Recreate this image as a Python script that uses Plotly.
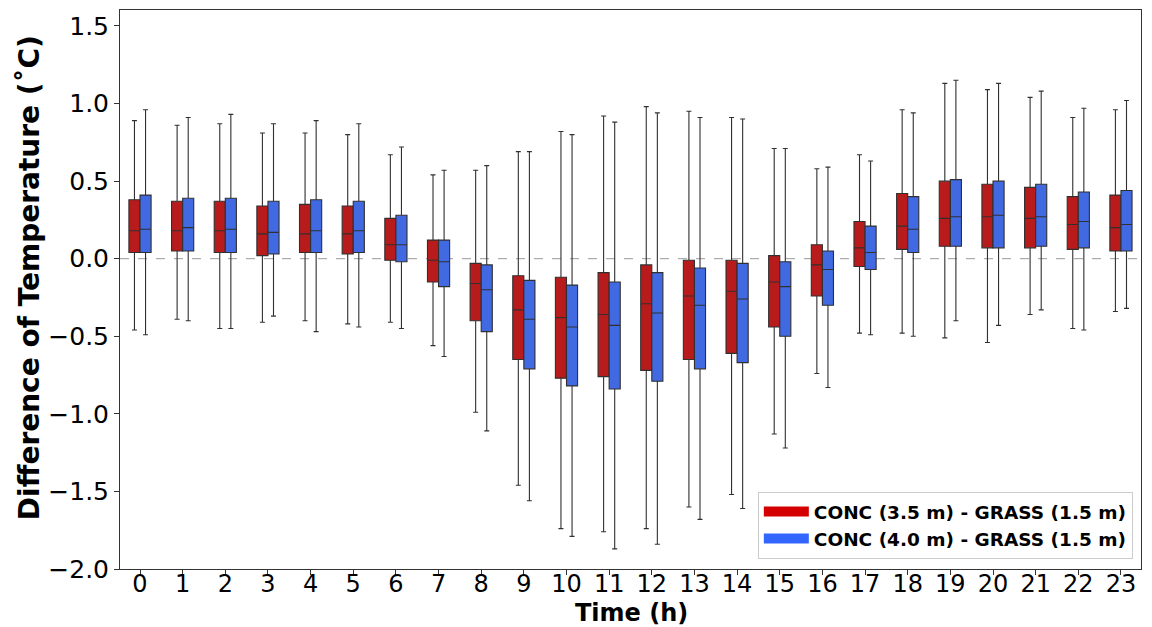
import plotly.graph_objects as go

hours = list(range(24))

# CONC (3.5 m) - GRASS (1.5 m)
red_upper = [0.89, 0.86, 0.87, 0.81, 0.81, 0.80, 0.67, 0.54, 0.57, 0.69, 0.82, 0.92,
             0.98, 0.95, 0.91, 0.71, 0.58, 0.67, 0.96, 1.13, 1.09, 1.04, 0.91, 0.96]
red_q3 = [0.38, 0.37, 0.37, 0.34, 0.35, 0.34, 0.26, 0.12, -0.03, -0.11, -0.12, -0.09,
          -0.04, -0.01, -0.01, 0.02, 0.09, 0.24, 0.42, 0.50, 0.48, 0.46, 0.40, 0.41]
red_med = [0.18, 0.18, 0.18, 0.16, 0.16, 0.16, 0.09, -0.01, -0.16, -0.33, -0.38, -0.36,
           -0.29, -0.24, -0.21, -0.15, -0.04, 0.07, 0.21, 0.26, 0.27, 0.26, 0.22, 0.20]
red_q1 = [0.04, 0.05, 0.04, 0.02, 0.04, 0.03, -0.01, -0.15, -0.40, -0.65, -0.77, -0.76,
          -0.72, -0.65, -0.61, -0.44, -0.24, -0.05, 0.06, 0.08, 0.07, 0.07, 0.06, 0.05]
red_lower = [-0.46, -0.39, -0.45, -0.41, -0.40, -0.42, -0.41, -0.56, -0.99, -1.46, -1.74, -1.76,
             -1.74, -1.60, -1.52, -1.13, -0.74, -0.48, -0.48, -0.51, -0.54, -0.36, -0.45, -0.34]

# CONC (4.0 m) - GRASS (1.5 m)
blue_upper = [0.96, 0.91, 0.93, 0.87, 0.89, 0.87, 0.72, 0.57, 0.60, 0.69, 0.80, 0.88,
              0.94, 0.91, 0.90, 0.71, 0.59, 0.63, 0.94, 1.15, 1.13, 1.08, 0.97, 1.02]
blue_q3 = [0.41, 0.39, 0.39, 0.37, 0.38, 0.37, 0.28, 0.12, -0.04, -0.14, -0.17, -0.15,
           -0.09, -0.06, -0.03, -0.02, 0.05, 0.21, 0.40, 0.51, 0.50, 0.48, 0.43, 0.44]
blue_med = [0.19, 0.20, 0.19, 0.17, 0.18, 0.18, 0.09, -0.02, -0.20, -0.39, -0.44, -0.43,
            -0.35, -0.30, -0.26, -0.18, -0.07, 0.04, 0.19, 0.27, 0.28, 0.27, 0.24, 0.22]
blue_q1 = [0.04, 0.05, 0.04, 0.03, 0.04, 0.04, -0.02, -0.18, -0.47, -0.71, -0.82, -0.84,
           -0.79, -0.71, -0.67, -0.50, -0.30, -0.07, 0.04, 0.08, 0.07, 0.08, 0.07, 0.05]
blue_lower = [-0.49, -0.40, -0.45, -0.37, -0.47, -0.44, -0.45, -0.63, -1.11, -1.56, -1.79, -1.87,
              -1.84, -1.68, -1.61, -1.22, -0.83, -0.49, -0.50, -0.40, -0.43, -0.33, -0.46, -0.32]

series = [
    ("CONC (3.5 m) - GRASS (1.5 m)", "#B81B1B", "#D40000", red_q1, red_med, red_q3, red_lower, red_upper),
    ("CONC (4.0 m) - GRASS (1.5 m)", "#4169E1", "#3366FF", blue_q1, blue_med, blue_q3, blue_lower, blue_upper),
]

fig = go.Figure()
for name, color, lcolor, q1, med, q3, lo, up in series:
    fig.add_trace(go.Box(
        name=name, x=hours, q1=q1, median=med, q3=q3,
        lowerfence=lo, upperfence=up,
        fillcolor=color, line=dict(color="#303030", width=1.1),
        whiskerwidth=0.45, boxpoints=False, showlegend=False,
    ))
for name, color, lcolor, *_ in series:
    # legend entry (thick line gives a wide rectangular patch)
    fig.add_trace(go.Scatter(
        name=name, x=[None], y=[None], mode="lines",
        line=dict(color=lcolor, width=15), showlegend=True,
    ))

fig.add_hline(y=0, line=dict(color="#999999", width=1, dash="dash"), layer="below")

# the page body has an 8 px margin, so the figure is sized to fit the window
fig.update_layout(
    width=1144, height=619,
    margin=dict(l=112, r=11, t=2, b=58),
    paper_bgcolor="white", plot_bgcolor="white",
    boxmode="group", boxgap=0.48, boxgroupgap=0.0,
    font=dict(family="DejaVu Sans", color="black"),
    legend=dict(
        x=0.992, y=0.018, xanchor="right", yanchor="bottom",
        bgcolor="white", bordercolor="#cccccc", borderwidth=1,
        font=dict(size=18.5, family="DejaVu Sans", weight="bold"),
        tracegroupgap=0, itemwidth=45,
    ),
    xaxis=dict(
        range=[-0.469, 23.47], tickmode="array", tickvals=hours,
        ticktext=[str(h) for h in hours],
        tickfont=dict(size=24), ticks="outside", ticklen=5, tickcolor="#333",
        ticklabelstandoff=-12,
        showline=True, linecolor="#333", linewidth=1, mirror=True,
        showgrid=False, zeroline=False, automargin=False,
    ),
    yaxis=dict(
        range=[-2.0, 1.603], tickvals=[-2.0, -1.5, -1.0, -0.5, 0.0, 0.5, 1.0, 1.5],
        tickformat=".1f", tickfont=dict(size=25),
        ticks="outside", ticklen=5, tickcolor="#333",
        showline=True, linecolor="#333", linewidth=1, mirror=True,
        showgrid=False, zeroline=False, automargin=False,
    ),
    annotations=[
        dict(text="<b>Time (h)</b>", xref="paper", yref="paper", x=0.501, y=-0.078,
             xanchor="center", yanchor="middle", showarrow=False, font=dict(size=24)),
        dict(text="<b>Difference of Temperature (\u02daC)</b>", xref="paper", yref="paper",
             x=-0.088, y=0.5206, xanchor="center", yanchor="middle", textangle=-90,
             showarrow=False, font=dict(size=28)),
    ],
)

fig.write_html("out.html")
